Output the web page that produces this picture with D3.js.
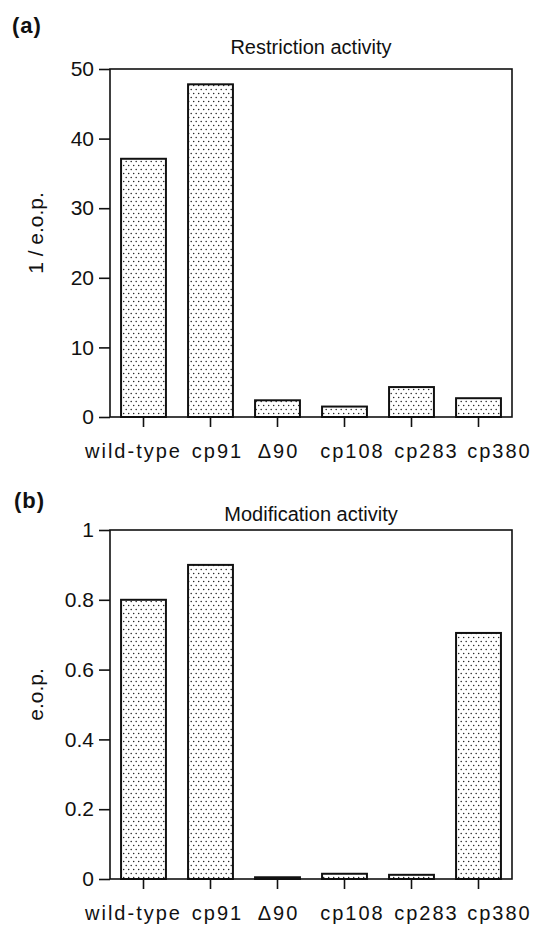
<!DOCTYPE html>
<html>
<head>
<meta charset="utf-8">
<script src="https://cdn.jsdelivr.net/npm/d3@7"></script>
<style>
  body { margin: 0; background: #fff; }
  text { font-family: "Liberation Sans", Arial, Helvetica, sans-serif; fill: #111; }
  .frame { fill: none; stroke: #111; stroke-width: 1.6; }
  .bar { stroke: #111; stroke-width: 2; }
</style>
</head>
<body>
<svg id="chart" width="547" height="927"></svg>
<script>
// strains on the x axis
var strains = ['wild-type', 'cp91', 'Δ90', 'cp108', 'cp283', 'cp380']

// panel (a): restriction, 1 / e.o.p.
var restriction = [37.1, 47.8, 2.4, 1.5, 4.3, 2.7]
var restrictionTicks = [0, 10, 20, 30, 40, 50]

// panel (b): modification, e.o.p.
var modification = [0.80, 0.90, 0.005, 0.015, 0.012, 0.705]
var modificationTicks = [0, 0.2, 0.4, 0.6, 0.8, 1]

// the typed strain names do not sit exactly under the bars in the original
var labelShift = [-10, 7, 1, 8, 15, 21]

var svg = d3.select('#chart')

// stipple fill used by every bar
var pat = svg.append('defs').append('pattern')
    .attr('id', 'dots')
    .attr('patternUnits', 'userSpaceOnUse')
    .attr('width', 5)
    .attr('height', 8)
pat.append('rect').attr('width', 5).attr('height', 8).attr('fill', '#fff')
pat.append('circle').attr('cx', 1.2).attr('cy', 1.5).attr('r', 0.75).attr('fill', '#222')
pat.append('circle').attr('cx', 3.7).attr('cy', 5.5).attr('r', 0.75).attr('fill', '#222')

/**
 * draws one boxed bar panel
 * @param {object} opt  tag, title, yLabel, values, ticks, fmt, top, bottom
 */
function panel(opt) {
    var left = 110, right = 512
    var g = svg.append('g')

    var x = d3.scaleBand()
        .domain(strains)
        .range([left, right])
        .paddingInner(0.33)
        .paddingOuter(0.165)

    var y = d3.scaleLinear()
        .domain([0, d3.max(opt.ticks)])
        .range([opt.bottom, opt.top])

    g.selectAll('.bar')
        .data(opt.values)
        .enter()
        .append('rect')
        .attr('class', 'bar')
        .attr('fill', 'url(#dots)')
        .attr('x', function (d, i) { return x(strains[i]) })
        .attr('width', x.bandwidth())
        .attr('y', function (d) { return y(d) })
        .attr('height', function (d) { return Math.max(0.5, y(0) - y(d)) })

    // frame
    g.append('rect')
        .attr('class', 'frame')
        .attr('x', left)
        .attr('y', opt.top)
        .attr('width', right - left)
        .attr('height', opt.bottom - opt.top)

    var yAxis = d3.axisLeft(y)
        .tickValues(opt.ticks)
        .tickSize(11)
        .tickPadding(5)
        .tickFormat(opt.fmt)
    var ya = g.append('g')
        .attr('transform', 'translate(' + left + ',0)')
        .call(yAxis)
    ya.select('.domain').remove()
    ya.selectAll('line').attr('stroke', '#111').attr('stroke-width', 1.6)
    ya.selectAll('text')
        .style('font-size', '21px')
        .attr('fill', '#111')

    var xAxis = d3.axisBottom(x).tickSize(10).tickFormat('')
    var xa = g.append('g')
        .attr('transform', 'translate(0,' + opt.bottom + ')')
        .call(xAxis)
    xa.select('.domain').remove()
    xa.selectAll('line').attr('stroke', '#111').attr('stroke-width', 1.6)

    g.selectAll('.xlabel')
        .data(strains)
        .enter()
        .append('text')
        .attr('class', 'xlabel')
        .attr('x', function (d, i) { return x(d) + x.bandwidth() / 2 + labelShift[i] })
        .attr('y', opt.bottom + 41)
        .attr('text-anchor', 'middle')
        .style('font-size', '20px')
        .style('letter-spacing', '2px')
        .text(function (d) { return d })

    g.append('text')
        .attr('x', (left + right) / 2)
        .attr('y', opt.titleY)
        .attr('text-anchor', 'middle')
        .style('font-size', '20px')
        .text(opt.title)

    g.append('text')
        .attr('x', opt.tagX)
        .attr('y', opt.tagY)
        .style('font-size', '22px')
        .style('font-weight', 'bold')
        .style('letter-spacing', '1px')
        .text(opt.tag)

    g.append('text')
        .attr('transform', 'translate(43,' + ((opt.top + opt.bottom) / 2 - 10) + ') rotate(-90)')
        .attr('text-anchor', 'middle')
        .style('font-size', '21px')
        .text(opt.yLabel)
}

panel({
    tag: '(a)', tagX: 12, tagY: 33,
    title: 'Restriction activity', titleY: 54,
    yLabel: '1 / e.o.p.',
    values: restriction,
    ticks: restrictionTicks,
    fmt: d3.format('d'),
    top: 69, bottom: 417
})

panel({
    tag: '(b)', tagX: 14, tagY: 508,
    title: 'Modification activity', titleY: 521,
    yLabel: 'e.o.p.',
    values: modification,
    ticks: modificationTicks,
    fmt: function (d) { return (d === 0 || d === 1) ? String(d) : d.toFixed(1) },
    top: 530, bottom: 879
})
</script>
</body>
</html>
